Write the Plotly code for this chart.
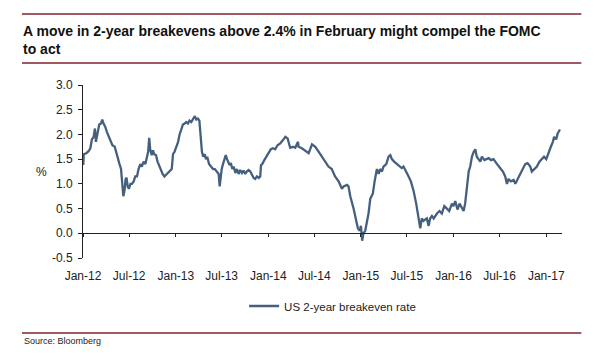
import plotly.graph_objects as go

# ---- data ----
dates = [
    "2012-01-02","2012-01-04","2012-01-14","2012-01-23","2012-01-30","2012-02-05","2012-02-12","2012-02-17",
    "2012-02-21","2012-02-25","2012-02-29","2012-03-05","2012-03-12","2012-03-17","2012-03-22","2012-03-29",
    "2012-04-04","2012-04-11","2012-04-18","2012-04-26","2012-05-05","2012-05-11","2012-05-18","2012-05-24",
    "2012-05-30","2012-06-04","2012-06-08","2012-06-13","2012-06-17","2012-06-21","2012-06-25","2012-06-30",
    "2012-07-06","2012-07-12","2012-07-19","2012-07-25","2012-08-01","2012-08-07","2012-08-14","2012-08-20",
    "2012-08-27","2012-09-03","2012-09-09","2012-09-14","2012-09-18","2012-09-22","2012-09-28","2012-10-03",
    "2012-10-08","2012-10-15","2012-10-21","2012-10-28","2012-11-03","2012-11-10","2012-11-17","2012-11-23",
    "2012-11-30","2012-12-08","2012-12-16","2012-12-21","2012-12-27","2013-01-03","2013-01-10","2013-01-16",
    "2013-01-23","2013-01-29","2013-02-05","2013-02-11","2013-02-18","2013-02-24","2013-03-03","2013-03-10",
    "2013-03-17","2013-03-23","2013-03-29","2013-04-04","2013-04-09","2013-04-14","2013-04-19","2013-04-25",
    "2013-04-30","2013-05-05","2013-05-12","2013-05-20","2013-05-28","2013-06-04","2013-06-12","2013-06-19",
    "2013-06-23","2013-06-27","2013-07-01","2013-07-06","2013-07-11","2013-07-17","2013-07-22","2013-07-27",
    "2013-08-01","2013-08-06","2013-08-12","2013-08-17","2013-08-24","2013-08-30","2013-09-06","2013-09-12",
    "2013-09-19","2013-09-25","2013-10-02","2013-10-08","2013-10-15","2013-10-22","2013-10-28","2013-11-04",
    "2013-11-10","2013-11-17","2013-11-24","2013-11-30","2013-12-03","2013-12-08","2013-12-16","2013-12-24",
    "2014-01-02","2014-01-11","2014-01-19","2014-01-28","2014-02-06","2014-02-17","2014-02-27","2014-03-09",
    "2014-03-18","2014-03-23","2014-03-28","2014-04-08","2014-04-17","2014-04-28","2014-04-30","2014-05-13",
    "2014-05-22","2014-06-02","2014-06-09","2014-06-22","2014-07-05","2014-07-18","2014-07-31","2014-08-13",
    "2014-08-26","2014-09-08","2014-09-21","2014-10-05","2014-10-18","2014-10-25","2014-11-07","2014-11-13",
    "2014-11-20","2014-12-03","2014-12-14","2014-12-20","2014-12-27","2015-01-01","2015-01-06","2015-01-11",
    "2015-01-18","2015-01-25","2015-01-31","2015-02-07","2015-02-17","2015-02-24","2015-03-05","2015-03-12",
    "2015-03-18","2015-03-25","2015-03-31","2015-04-11","2015-04-20","2015-04-27","2015-05-03","2015-05-12",
    "2015-05-23","2015-06-02","2015-06-11","2015-06-18","2015-06-29","2015-07-08","2015-07-17","2015-07-28",
    "2015-08-07","2015-08-16","2015-08-23","2015-08-29","2015-09-05","2015-09-12","2015-09-18","2015-09-25",
    "2015-10-01","2015-10-08","2015-10-15","2015-10-28","2015-11-07","2015-11-16","2015-11-26","2015-12-06",
    "2015-12-15","2015-12-26","2016-01-01","2016-01-08","2016-01-17","2016-01-25","2016-02-03","2016-02-10",
    "2016-02-16","2016-02-23","2016-03-01","2016-03-07","2016-03-14","2016-03-21","2016-03-27","2016-04-02",
    "2016-04-09","2016-04-16","2016-04-22","2016-05-02","2016-05-10","2016-05-19","2016-05-28","2016-06-07",
    "2016-06-18","2016-06-27","2016-07-06","2016-07-14","2016-07-23","2016-07-30","2016-08-05","2016-08-14",
    "2016-08-25","2016-09-01","2016-09-10","2016-09-20","2016-10-01","2016-10-10","2016-10-19","2016-10-30",
    "2016-11-05","2016-11-14","2016-11-25","2016-12-05","2016-12-14","2016-12-23","2017-01-01","2017-01-10",
    "2017-01-19","2017-01-27","2017-02-01","2017-02-09","2017-02-15","2017-02-24",
]
breakeven_2y = [
    1.38,1.60,1.62,1.66,1.72,1.90,1.95,2.12,
    1.85,1.98,2.05,2.20,2.22,2.30,2.22,2.15,
    2.05,1.95,1.85,1.78,1.75,1.62,1.50,1.40,
    1.30,1.05,0.75,0.88,1.10,1.12,0.95,0.90,
    1.00,1.00,1.05,1.15,1.15,1.30,1.40,1.35,
    1.45,1.40,1.55,1.65,1.93,1.70,1.58,1.68,
    1.60,1.58,1.45,1.35,1.28,1.20,1.15,1.18,
    1.22,1.25,1.30,1.60,1.65,1.75,1.85,2.00,
    2.10,2.20,2.22,2.25,2.22,2.28,2.25,2.30,
    2.37,2.30,2.32,2.28,2.00,1.65,1.55,1.60,
    1.50,1.55,1.40,1.35,1.30,1.30,1.25,1.20,
    0.95,1.15,1.30,1.40,1.50,1.58,1.50,1.45,
    1.38,1.42,1.30,1.35,1.22,1.30,1.20,1.28,
    1.22,1.27,1.20,1.25,1.28,1.25,1.20,1.12,
    1.10,1.15,1.12,1.15,1.38,1.40,1.48,1.55,
    1.62,1.70,1.72,1.70,1.78,1.82,1.88,1.95,
    1.92,1.80,1.73,1.75,1.73,1.85,1.75,1.72,
    1.68,1.65,1.62,1.80,1.75,1.65,1.55,1.45,
    1.35,1.30,1.15,1.05,0.90,0.95,0.98,0.95,
    0.75,0.50,0.25,0.10,0.05,0.15,-0.15,0.00,
    0.05,0.25,0.40,0.70,0.80,1.05,1.30,1.20,
    1.30,1.25,1.35,1.40,1.55,1.58,1.50,1.45,
    1.40,1.35,1.32,1.35,1.25,1.15,1.05,0.85,
    0.60,0.35,0.10,0.30,0.25,0.28,0.30,0.15,
    0.30,0.35,0.30,0.40,0.45,0.40,0.55,0.50,
    0.45,0.60,0.55,0.65,0.48,0.60,0.50,0.45,
    0.60,1.00,1.25,1.35,1.55,1.65,1.70,1.55,
    1.50,1.45,1.55,1.48,1.50,1.52,1.48,1.50,
    1.42,1.35,1.30,1.25,1.15,1.00,1.10,1.05,
    1.08,1.00,1.10,1.20,1.30,1.40,1.42,1.35,
    1.25,1.30,1.35,1.45,1.50,1.55,1.50,1.65,
    1.75,1.85,1.95,1.90,2.02,2.10,
]
series_name = "US 2-year breakeven rate"
y_tick_vals = [-0.5, 0.0, 0.5, 1.0, 1.5, 2.0, 2.5, 3.0]
y_tick_text = ["-0.5", "0.0", "0.5", "1.0", "1.5", "2.0", "2.5", "3.0"]
x_range = ["2012-01-01", "2017-03-04"]
title_text = "A move in 2-year breakevens above 2.4% in February might compel the FOMC<br>to act"
source_text = "Source: Bloomberg"

FONT = "Liberation Sans, Arial, sans-serif"
LINE_COLOR = "#45607f"
RULE_COLOR = "#9e5a5e"
AX = "#222222"

# The page body has an 8px margin, so the figure is drawn 8px in from the
# window corner; page positions below are converted to figure positions.
OFF = 8
W, H = 600 - OFF, 356 - OFF
PL, PR, PT, PB = 83, 561.7, 85, 258          # plot area in page pixels
ML, MT = PL - OFF, PT - OFF
MR, MB = W - (PR - OFF), H - (PB - OFF)
PW, PH = PR - PL, PB - PT


def px_x(px):
    return (px - PL) / PW


def px_y(py):
    return (PB - py) / PH


fig = go.Figure()
fig.add_trace(go.Scatter(
    x=dates, y=breakeven_2y, mode="lines", name=series_name,
    line=dict(color=LINE_COLOR, width=2.3), xaxis="x", yaxis="y",
))

ymin, ymax = y_tick_vals[0], y_tick_vals[-1]

fig.update_layout(
    width=W, height=H, autosize=False,
    margin=dict(l=ML, r=MR, t=MT, b=MB, pad=0),
    paper_bgcolor="white", plot_bgcolor="white",
    font=dict(family=FONT, size=12, color=AX),
    showlegend=True,
    legend=dict(orientation="h", x=px_x(244), xanchor="left", y=px_y(306), yanchor="middle",
                font=dict(size=11.5, color=AX, family=FONT), bgcolor="rgba(0,0,0,0)",
                itemwidth=30),
    title=dict(text=title_text, x=(23 - OFF) / W, xanchor="left", xref="container",
               y=1 - (36 - OFF) / H, yanchor="top", yref="container",
               font=dict(family=FONT, size=14, color="#111111", weight="bold")),
    xaxis=dict(
        range=x_range, type="date", tickformat="%b-%y", dtick="M6", tick0="2012-01-01",
        showline=False, showgrid=False, zeroline=False,
        ticks="outside", ticklen=7, tickcolor="rgba(0,0,0,0)",
        tickfont=dict(size=12, color=AX),
    ),
    xaxis2=dict(
        range=x_range, type="date", dtick="M6", tick0="2012-01-01", matches="x",
        overlaying="x", anchor="free", position=(0 - ymin) / (ymax - ymin),
        showline=True, linecolor=AX, linewidth=1, showgrid=False, zeroline=False,
        ticks="outside", ticklen=3, tickcolor=AX, showticklabels=False,
    ),
    yaxis=dict(
        range=[ymin, ymax], tickvals=y_tick_vals, ticktext=y_tick_text,
        showline=True, linecolor=AX, linewidth=1, showgrid=False, zeroline=False,
        ticks="outside", ticklen=4, tickcolor=AX, tickfont=dict(size=12, color=AX),
        ticklabelstandoff=3,
    ),
)

# invisible trace so that the zero-line axis (x2) is rendered
fig.add_trace(go.Scatter(x=[dates[0]], y=[None], xaxis="x2", yaxis="y",
                         showlegend=False, hoverinfo="skip"))

# horizontal rules
for py in (14, 63, 333):
    fig.add_shape(type="line", xref="paper", yref="paper",
                  x0=px_x(22), x1=px_x(581), y0=px_y(py), y1=px_y(py),
                  line=dict(color=RULE_COLOR, width=2))

fig.add_annotation(text="%", xref="paper", yref="paper", x=px_x(42), y=px_y(172),
                   xanchor="center", yanchor="middle", showarrow=False,
                   font=dict(size=12, color=AX))
fig.add_annotation(text=source_text, xref="paper", yref="paper", x=px_x(22), y=px_y(341),
                   xanchor="left", yanchor="middle", showarrow=False,
                   font=dict(size=9, color=AX))

fig.write_html("out.html")
